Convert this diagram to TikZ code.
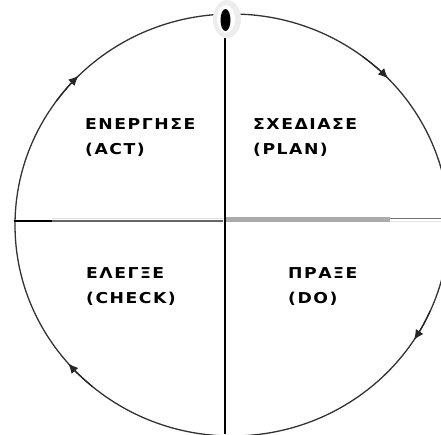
\documentclass[tikz,border=0pt]{standalone}
\usepackage{fontspec}
\setmainfont{DejaVu Sans}
\newfontfamily\phasefont{DejaVu Sans}[FakeStretch=1.15, LetterSpace=10]
\usetikzlibrary{arrows.meta}
\tikzset{
  phase/.style={anchor=west, align=left, inner sep=0pt,
    font=\phasefont\fontsize{15}{25}\selectfont\bfseries},
  flow/.style={-{Latex[length=10pt,width=9pt]}, line width=1.2pt, black!85},
  rim/.style={black!80, line width=1.3pt},
}
\begin{document}
\begin{tikzpicture}[x=1pt,y=-1pt]
    \useasboundingbox (0,0) rectangle (441,434);
    \clip (0,0) rectangle (441,434);
    % Circle
    \coordinate (c) at (232,225);
    \draw[rim] (c) ellipse [x radius=217, y radius=211];
    % Arrows on the circle
    \draw[flow] (c) ++(24:217 and 211) arc[start angle=24, end angle=33, x radius=217, y radius=211];
    \draw[flow] (c) ++(130:217 and 211) arc[start angle=130, end angle=139, x radius=217, y radius=211];
    \draw[flow] (c) ++(216:217 and 211) arc[start angle=216, end angle=225, x radius=217, y radius=211];
    \draw[flow] (c) ++(307:217 and 211) arc[start angle=307, end angle=316, x radius=217, y radius=211];
    % Top mark
    \fill[gray!14] (227,19) ellipse [x radius=14, y radius=19];
    \fill[white] (226,19) ellipse [x radius=9, y radius=14];
    \fill[black] (225.5,20) ellipse [x radius=5, y radius=11];
    % Cross
    \coordinate (o) at (225,221);
    \draw[line width=2pt] (225,38) -- (225,434);
    \draw[line width=1.5pt] (14,221) -- (52,221);
    \draw[gray!25, line width=1pt] (52,218.5) -- (223,218.5);
    \draw[black!60, line width=1.5pt] (52,221) -- (223,221);
    \draw[black!33, line width=5pt] (226,219.5) -- (390,219.5);
    \draw[black!55, line width=1.5pt] (390,218.5) -- (441,218.5);
    \draw[gray!20, line width=1pt] (390,221) -- (441,221);
    % Labels
    \node[phase] (act) at (85,138) {ΕΝΕΡΓΗΣΕ\\(ACT)};
    \node[phase] (plan) at (253,138) {ΣΧΕΔΙΑΣΕ\\(PLAN)};
    \node[phase] (check) at (86,287) {ΕΛΕΓΞΕ\\(CHECK)};
    \node[phase] (do) at (288,287) {ΠΡΑΞΕ\\(DO)};
\end{tikzpicture}
\end{document}
